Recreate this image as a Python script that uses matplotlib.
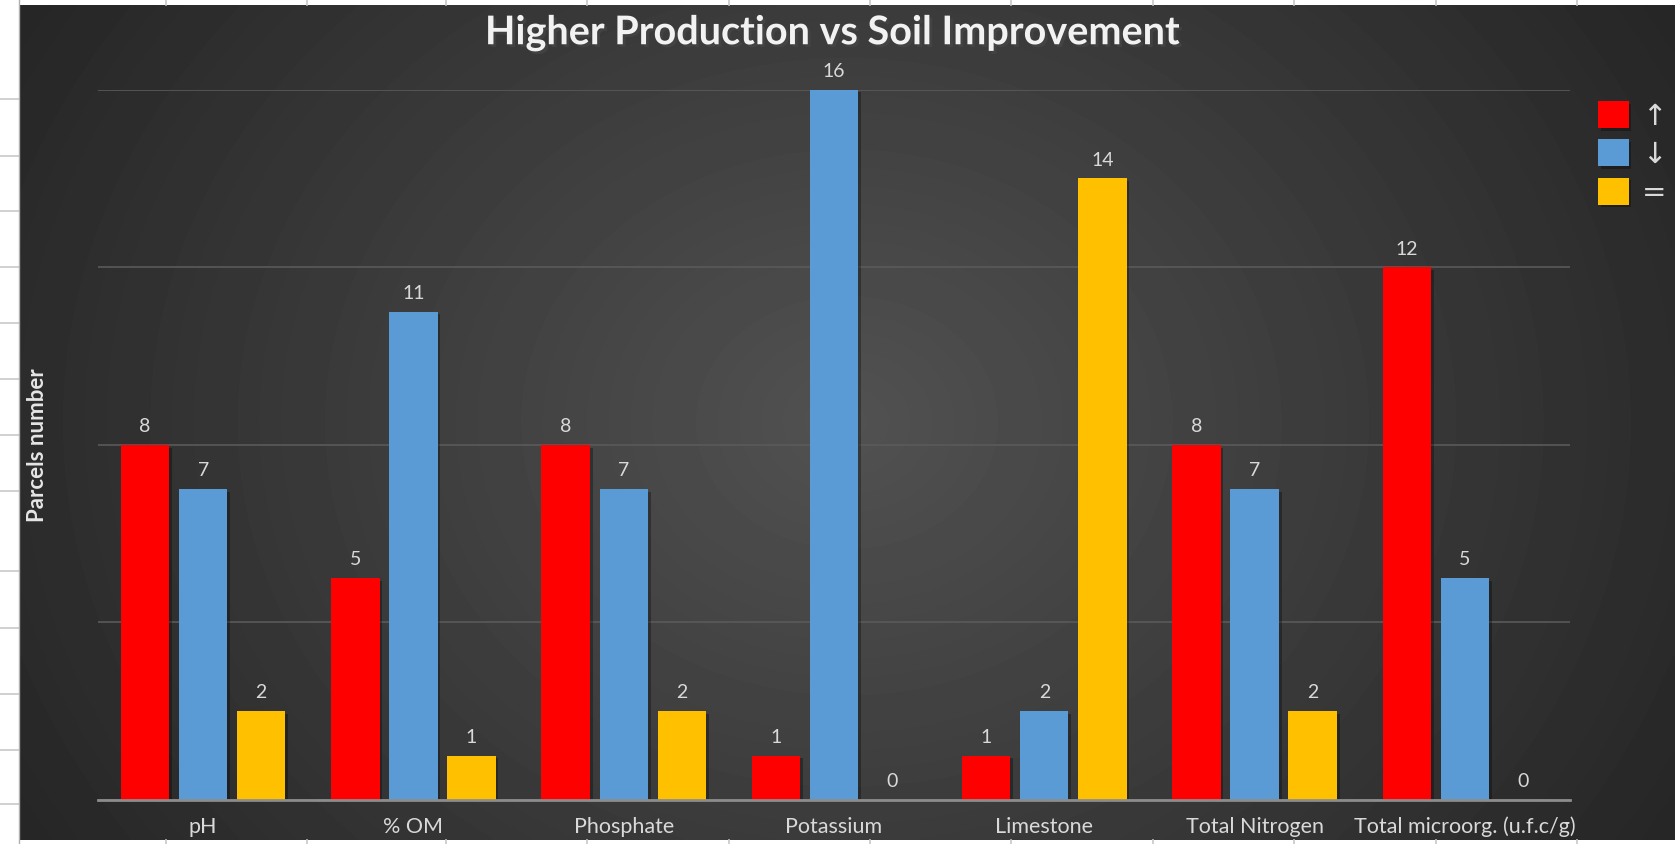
import numpy as np
import matplotlib.pyplot as plt
import matplotlib.patheffects as pe
from matplotlib.lines import Line2D

# Data
categories = ['pH', '% OM', 'Phosphate', 'Potassium', 'Limestone',
              'Total Nitrogen', 'Total microorg. (u.f.c/g)']
up_vals = [8, 5, 8, 1, 1, 8, 12]
down_vals = [7, 11, 7, 16, 2, 7, 5]
equal_vals = [2, 1, 2, 0, 14, 2, 0]
series_labels = ['\u2191', '\u2193', '=']
colors = ['#FF0000', '#5B9BD5', '#FFC000']

plt.rcParams['font.family'] = ['Lato', 'DejaVu Sans']

W, H = 1675, 844
fig = plt.figure(figsize=(W / 100, H / 100), dpi=100)
fig.patch.set_facecolor('white')

# spreadsheet grid lines peeking out around the chart
for y in [93, 146, 198, 250, 302, 355, 407, 460, 535, 588, 650, 702, 753]:
    yy = 1 - y * 1.068 / H
    fig.add_artist(Line2D([0, 19 / W], [yy, yy], color='#c8c8c8', lw=1.2))
for x in [155, 287, 418, 550, 683, 815, 947, 1080, 1212, 1345, 1477]:
    xx = x * 1.068 / W
    fig.add_artist(Line2D([xx, xx], [1 - 5 / H, 1], color='#c8c8c8', lw=1.2))
    fig.add_artist(Line2D([xx, xx], [0, 4 / H], color='#c8c8c8', lw=1.2))
fig.add_artist(Line2D([19 / W, 19 / W], [0, 1], color='#b0b0b0', lw=1))

# dark radial background
bg = fig.add_axes([19 / W, 4 / H, 1 - 19 / W, 1 - 9 / H])
gx, gy = np.meshgrid(np.linspace(-1, 1, 400), np.linspace(-1, 1, 200))
r = np.clip(np.sqrt(gx ** 2 + (gy * 0.6) ** 2) / 1.15, 0, 1)
shade = 0.32 - 0.17 * r
bg.imshow(shade, cmap='gray', vmin=0, vmax=1, aspect='auto',
          extent=[0, 1, 0, 1], interpolation='bicubic')
bg.axis('off')

# main axes
ax = fig.add_axes([98 / W, 1 - 800 / H, (1570 - 98) / W, (800 - 89.7) / H])
ax.patch.set_alpha(0)
x = np.arange(len(categories))
width = 0.23
step = 0.276
shadow = [pe.SimplePatchShadow(offset=(2, -2), shadow_rgbFace='black', alpha=0.3), pe.Normal()]

for k, vals in enumerate([up_vals, down_vals, equal_vals]):
    pos = x + (k - 1) * step
    ax.bar(pos, vals, width=width, color=colors[k], zorder=3,
           label=series_labels[k], path_effects=shadow)
    for p, v in zip(pos, vals):
        ax.text(p, v + 0.22, str(v), ha='center', va='bottom',
                color='#d9d9d9', fontsize=14, zorder=4)

ax.set_xlim(-0.5, len(categories) - 0.5)
ax.set_ylim(0, 16)
ax.set_yticks([0, 4, 8, 12, 16])
ax.yaxis.grid(True, color='#5a5a5a', lw=1.2, zorder=0)
ax.tick_params(axis='y', length=0, labelleft=False)
ax.tick_params(axis='x', length=0, colors='#d9d9d9', labelsize=15.5, pad=12)
ax.set_xticks(x)
ax.set_xticklabels(categories)
for s in ['top', 'right', 'left']:
    ax.spines[s].set_visible(False)
ax.spines['bottom'].set_color('#8c8c8c')
ax.spines['bottom'].set_linewidth(2)
ax.spines['bottom'].set_zorder(5)

ax.set_ylabel('Parcels number', color='#e6e6e6', fontsize=16,
              fontweight='bold', labelpad=36)

fig.text(833 / W, 1 - 33 / H, 'Higher Production vs Soil Improvement',
         ha='center', va='center', color='#f2f2f2', fontsize=28.5,
         fontweight='bold',
         path_effects=[pe.withSimplePatchShadow(offset=(2, -2), alpha=0.6)])

ax.legend(loc='upper left', bbox_to_anchor=(1.019, 0.984), frameon=False,
          labelcolor='#d9d9d9', handlelength=1.05,
          handleheight=1.05, labelspacing=0.3, handletextpad=0.45,
          borderaxespad=0, borderpad=0,
          prop={'family': ['DejaVu Sans'], 'size': 21})

fig.savefig('out.png', dpi=100, facecolor=fig.get_facecolor())
